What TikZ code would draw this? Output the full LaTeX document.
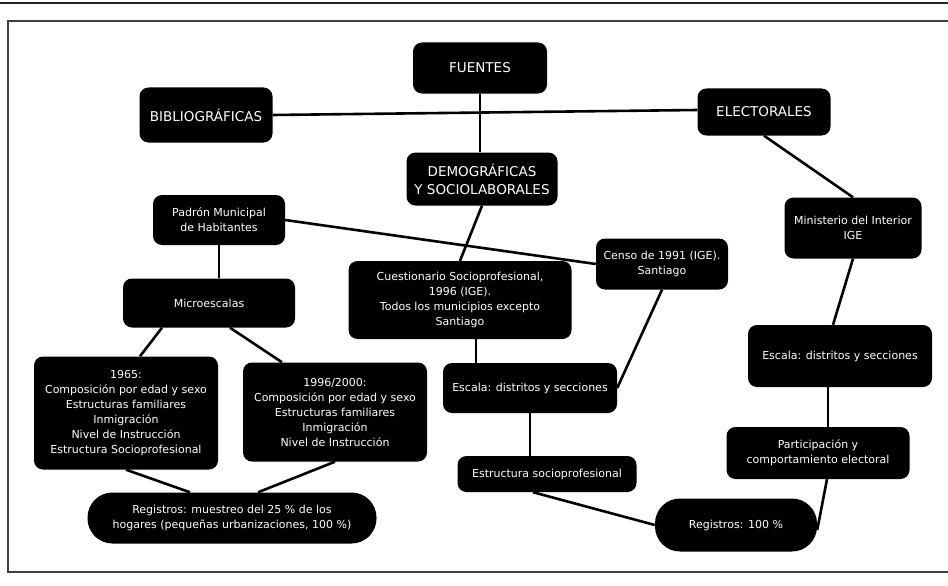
\documentclass[tikz,border=0pt]{standalone}
\usepackage{fontspec}
\setmainfont{DejaVu Sans}
\begin{document}
\begin{tikzpicture}[x=1pt,y=-1pt,
	caja/.style={fill=black, text=white, rounded corners=9pt, align=center, inner sep=0pt, font=\fontsize{11}{15}\selectfont},
	titulo/.style={caja, font=\fontsize{13.5}{18}\selectfont},
	pildora/.style={caja, rounded corners=25pt},
	linea/.style={line width=2.6pt}]
	\useasboundingbox (0,0) rectangle (948,586);

	% marco
	\draw[line width=2.5pt, black!85] (0,3) -- (948,3);
	\draw[line width=2.5pt, black!75] (948,21) -- (8,21) -- (8,572) -- (948,572);

	% fuentes
	\node[titulo, minimum width=134pt, minimum height=51pt] (fuentes) at (480,68) {FUENTES};
	\node[titulo, minimum width=133pt, minimum height=55pt] (bib) at (206,115) {BIBLIOGRÁFICAS};
	\node[titulo, minimum width=133pt, minimum height=47pt] (elec) at (764,112) {ELECTORALES};
	\node[titulo, minimum width=151pt, minimum height=53pt] (demo) at (482,179) {DEMOGRÁFICAS\\Y SOCIOLABORALES};

	% demograficas
	\node[caja, minimum width=132pt, minimum height=50pt] (pad) at (219,220) {Padrón Municipal\\de Habitantes};
	\node[caja, minimum width=172pt, minimum height=49pt] (micro) at (209,303) {Microescalas};
	\node[caja, minimum width=184pt, minimum height=113pt] (y65) at (126,413) {1965:\\Composición por edad y sexo\\Estructuras familiares\\Inmigración\\Nivel de Instrucción\\Estructura Socioprofesional};
	\node[caja, minimum width=184pt, minimum height=99pt] (y96) at (335,412) {1996/2000:\\Composición por edad y sexo\\Estructuras familiares\\Inmigración\\Nivel de Instrucción};
	\node[pildora, minimum width=289pt, minimum height=51pt] (regm) at (232,518) {Registros: muestreo del 25 \% de los\\hogares (pequeñas urbanizaciones, 100 \%)};

	% sociolaborales
	\node[caja, minimum width=223pt, minimum height=78pt] (cuest) at (460,300) {Cuestionario Socioprofesional,\\1996 (IGE).\\Todos los municipios excepto\\Santiago};
	\node[caja, minimum width=132pt, minimum height=51pt] (censo) at (662,264) {Censo de 1991 (IGE).\\Santiago};
	\node[caja, minimum width=174pt, minimum height=50pt] (escm) at (530,388) {Escala: distritos y secciones};
	\node[caja, minimum width=179pt, minimum height=36pt] (estr) at (547,474) {Estructura socioprofesional};
	\node[pildora, minimum width=162pt, minimum height=53pt] (reg100) at (736,525) {Registros: 100 \%};

	% electorales
	\node[caja, minimum width=137pt, minimum height=61pt] (min) at (853,228) {Ministerio del Interior\\IGE};
	\node[caja, minimum width=184pt, minimum height=62pt] (escr) at (840,356) {Escala: distritos y secciones};
	\node[caja, minimum width=183pt, minimum height=52pt] (part) at (818,453) {Participación y\\comportamiento electoral};

	% conexiones
	\draw[linea] (fuentes.south) -- (fuentes.south |- demo.north);
	\draw[linea] (bib.east) -- ([yshift=2pt]elec.west);
	\draw[linea] (elec.south) -- (min.north);
	\draw[linea] (demo.south) -- (cuest.north);
	\draw[linea] (pad.east) -- (censo.west);
	\draw[linea] (pad.south) -- (pad.south |- micro.north);
	\draw[linea] ([xshift=-47pt]micro.south) -- ([xshift=14pt]y65.north);
	\draw[linea] ([xshift=21pt]micro.south) -- ([xshift=-53pt]y96.north);
	\draw[linea] (y65.south) -- ([xshift=-42pt]regm.north);
	\draw[linea] (y96.south) -- ([xshift=26pt]regm.north);
	\draw[linea] ([xshift=16pt]cuest.south) -- ([xshift=16pt]cuest.south |- escm.north);
	\draw[linea] (censo.south) -- (escm.east);
	\draw[linea] (escm.south) -- (escm.south |- estr.north);
	\draw[linea] ([xshift=-14pt]estr.south) -- (reg100.west);
	\draw[linea] (min.south) -- ([xshift=-7pt]escr.north);
	\draw[linea] ([xshift=-12pt]escr.south) -- ([xshift=-12pt]escr.south |- part.north);
	\draw[linea] ([xshift=9pt]part.south) -- ([yshift=-5pt]reg100.east);
\end{tikzpicture}
\end{document}
